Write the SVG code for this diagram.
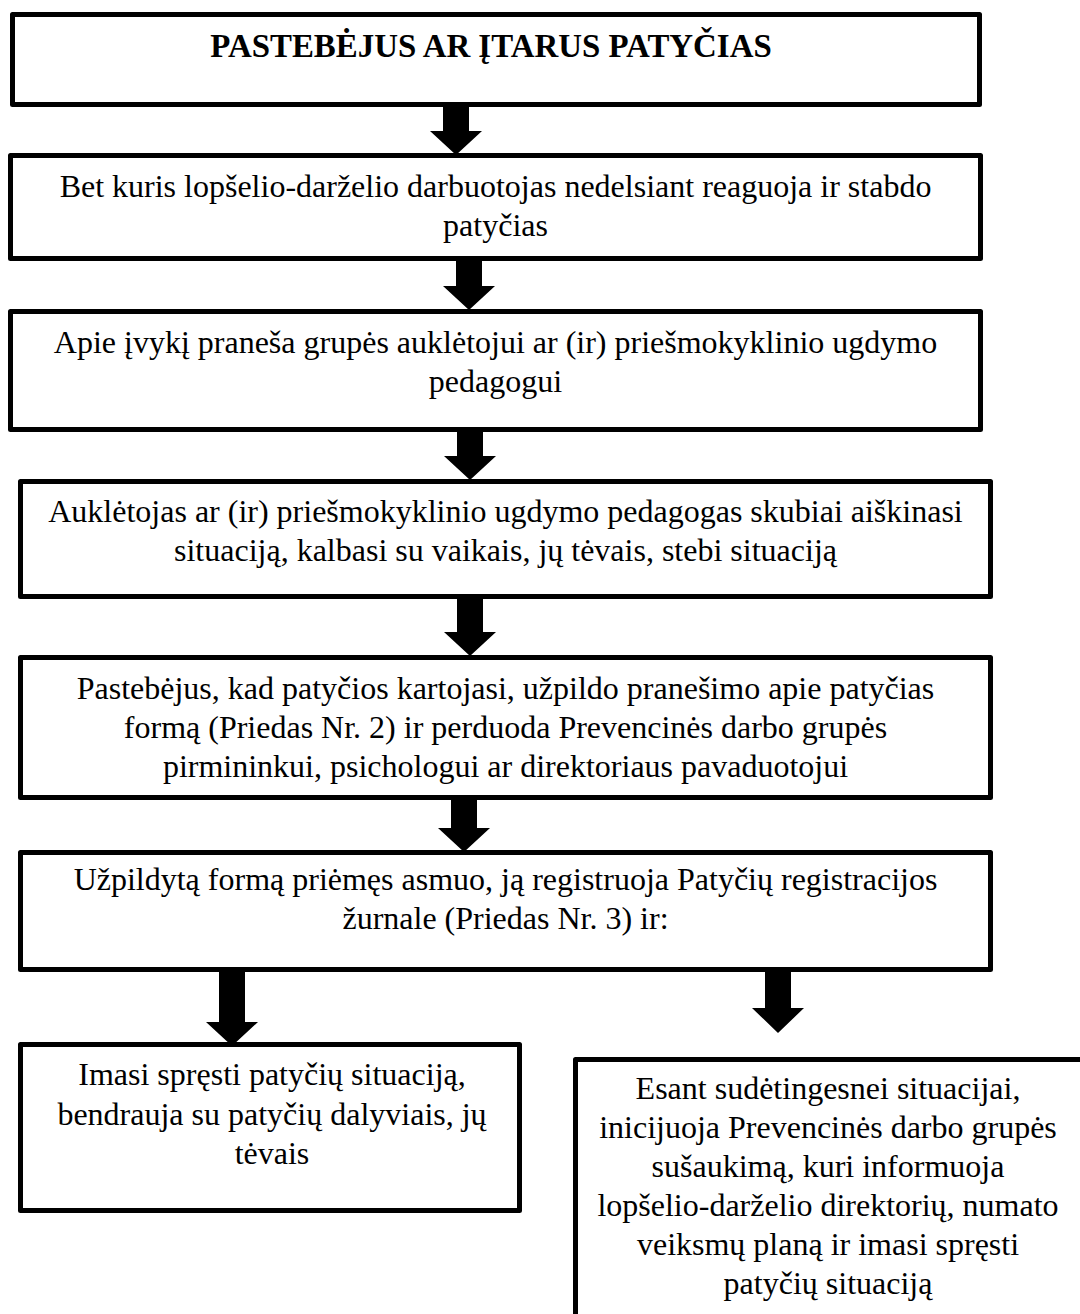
<svg xmlns="http://www.w3.org/2000/svg" width="1080" height="1314" viewBox="0 0 1080 1314">
<style>
.box{fill:#fff;stroke:#000;stroke-width:5;stroke-linejoin:round}
.t{font-family:"Liberation Serif","Times New Roman",serif;font-size:32px;fill:#000;text-anchor:middle}
.b{font-weight:bold;font-size:32.9px}
.arr{fill:#000}
</style>
<rect width="1080" height="1314" fill="#fff"/>
<g id="connectors">
<polygon class="arr" points="443,106 469,106 469,131 482,131 456,155 430,131 443,131"/>
<polygon class="arr" points="456,260 482,260 482,286 495,286 469,310 443,286 456,286"/>
<polygon class="arr" points="457,431 483,431 483,456 496,456 470,480 444,456 457,456"/>
<polygon class="arr" points="457,598 483,598 483,632 496,632 470,656 444,632 457,632"/>
<polygon class="arr" points="451,799 477,799 477,828 490,828 464,852 438,828 451,828"/>
<polygon class="arr" points="219,971 245,971 245,1022 258,1022 232,1046 206,1022 219,1022"/>
<polygon class="arr" points="765,971 791,971 791,1008 804,1008 778,1033 752,1008 765,1008"/>
</g>
<g id="n1">
<rect class="box" x="12.5" y="14.5" width="967" height="90"/>
<text class="t b" x="491" y="57">PASTEBĖJUS AR ĮTARUS PATYČIAS</text>
</g>
<g id="n2">
<rect class="box" x="10.5" y="155.5" width="970" height="103"/>
<text class="t" x="495.5" y="197">Bet kuris lopšelio-darželio darbuotojas nedelsiant reaguoja ir stabdo</text>
<text class="t" x="495.5" y="236">patyčias</text>
</g>
<g id="n3">
<rect class="box" x="10.5" y="311.5" width="970" height="118"/>
<text class="t" x="495.5" y="353">Apie įvykį praneša grupės auklėtojui ar (ir) priešmokyklinio ugdymo</text>
<text class="t" x="495.5" y="392">pedagogui</text>
</g>
<g id="n4">
<rect class="box" x="20.5" y="481.5" width="970" height="115"/>
<text class="t" x="505.5" y="522">Auklėtojas ar (ir) priešmokyklinio ugdymo pedagogas skubiai aiškinasi</text>
<text class="t" x="505.5" y="561">situaciją, kalbasi su vaikais, jų tėvais, stebi situaciją</text>
</g>
<g id="n5">
<rect class="box" x="20.5" y="657.5" width="970" height="140"/>
<text class="t" x="505.5" y="699">Pastebėjus, kad patyčios kartojasi, užpildo pranešimo apie patyčias</text>
<text class="t" x="505.5" y="738">formą (Priedas Nr. 2) ir perduoda Prevencinės darbo grupės</text>
<text class="t" x="505.5" y="777">pirmininkui, psichologui ar direktoriaus pavaduotojui</text>
</g>
<g id="n6">
<rect class="box" x="20.5" y="852.5" width="970" height="117"/>
<text class="t" x="505.5" y="890">Užpildytą formą priėmęs asmuo, ją registruoja Patyčių registracijos</text>
<text class="t" x="505.5" y="929">žurnale (Priedas Nr. 3) ir:</text>
</g>
<g id="n7">
<rect class="box" x="20.5" y="1044.5" width="499" height="166"/>
<text class="t" x="272" y="1085">Imasi spręsti patyčių situaciją,</text>
<text class="t" x="272" y="1125">bendrauja su patyčių dalyviais, jų</text>
<text class="t" x="272" y="1164">tėvais</text>
</g>
<g id="n8">
<rect class="box" x="575.5" y="1059.5" width="520" height="300"/>
<text class="t" x="828" y="1099">Esant sudėtingesnei situacijai,</text>
<text class="t" x="828" y="1138">inicijuoja Prevencinės darbo grupės</text>
<text class="t" x="828" y="1177">sušaukimą, kuri informuoja</text>
<text class="t" x="828" y="1216">lopšelio-darželio direktorių, numato</text>
<text class="t" x="828" y="1255">veiksmų planą ir imasi spręsti</text>
<text class="t" x="828" y="1294">patyčių situaciją</text>
</g>
</svg>
